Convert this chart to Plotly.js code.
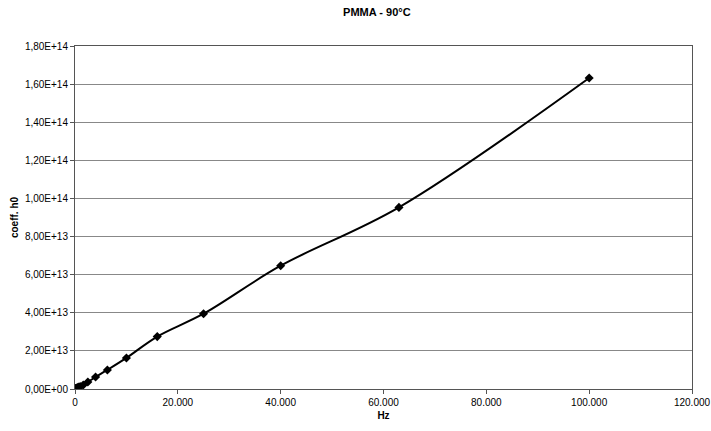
<!DOCTYPE html>
<html>
<head>
<meta charset="utf-8">
<script src="https://cdn.plot.ly/plotly-3.0.1.min.js"></script>
<style>html,body{margin:0;padding:0;background:#fff}#chart{width:711px;height:431px}</style>
</head>
<body>
<div id="chart"></div>
<script>
const freqHz = [100, 160, 250, 400, 630, 1000, 1600, 2500, 4000, 6300, 10000, 16000, 25000, 40000, 63000, 100000];
const coeffH0 = [1.6e11, 2.6e11, 4.0e11, 6.4e11, 1.0e12, 1.3e12, 2.1e12, 3.7e12, 6.3e12, 1.0e13, 1.63e13, 2.75e13, 3.95e13, 6.47e13, 9.53e13, 1.632e14];
const yTickVals = [0, 2e13, 4e13, 6e13, 8e13, 1e14, 1.2e14, 1.4e14, 1.6e14, 1.8e14];
const yTickText = ["0,00E+00","2,00E+13","4,00E+13","6,00E+13","8,00E+13","1,00E+14","1,20E+14","1,40E+14","1,60E+14","1,80E+14"];
const xTickVals = [0, 20000, 40000, 60000, 80000, 100000, 120000];
const xTickText = ["0","20.000","40.000","60.000","80.000","100.000","120.000"];

const font = "Liberation Sans, Arial, sans-serif";
Plotly.newPlot("chart", [{
  x: freqHz, y: coeffH0, type: "scatter", mode: "lines+markers",
  line: {color: "#000", width: 2, shape: "spline", smoothing: 1},
  marker: {symbol: "diamond", size: 7, color: "#000"}
}], {
  width: 711, height: 431,
  margin: {l: 75, r: 19, t: 46, b: 42},
  paper_bgcolor: "#fff", plot_bgcolor: "#fff",
  showlegend: false,
  title: {text: "<b>PMMA - 90°C</b>", font: {family: font, size: 11, color: "#000"}, x: 0.53, xanchor: "center", y: 0.98, yanchor: "top"},
  xaxis: {
    range: [0, 120000], tickvals: xTickVals, ticktext: xTickText,
    showgrid: false, zeroline: false,
    showline: true, linecolor: "#555", linewidth: 1, mirror: true,
    ticks: "outside", ticklen: 4, tickcolor: "#555",
    tickfont: {family: font, size: 10, color: "#000"},
    title: {text: "<b>Hz</b>", font: {family: font, size: 10, color: "#000"}, standoff: 4}
  },
  yaxis: {
    range: [0, 1.8e14], tickvals: yTickVals, ticktext: yTickText,
    showgrid: true, gridcolor: "#888", gridwidth: 1, zeroline: false,
    showline: true, linecolor: "#555", linewidth: 1, mirror: true,
    ticks: "outside", ticklen: 4, tickcolor: "#555",
    tickfont: {family: font, size: 10, color: "#000"},
    title: {text: "<b>coeff. h0</b>", font: {family: font, size: 10, color: "#000"}, standoff: 4}
  }
}, {displayModeBar: false, staticPlot: true});
</script>
</body>
</html>
